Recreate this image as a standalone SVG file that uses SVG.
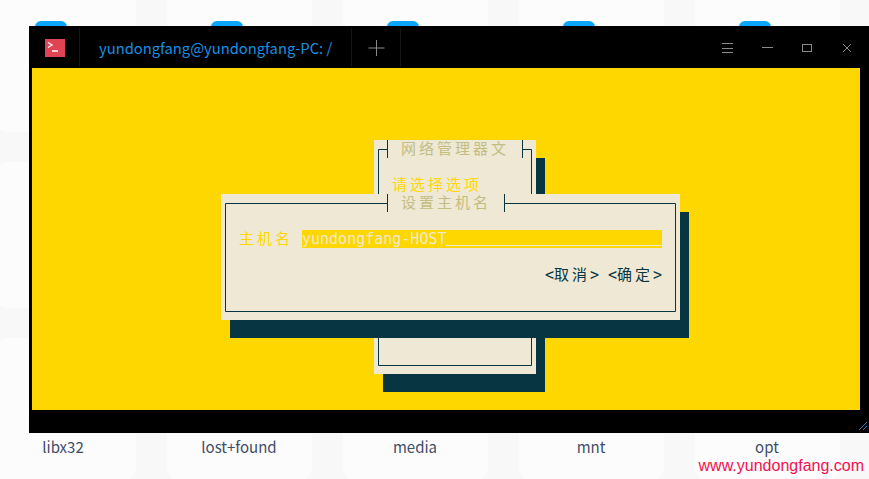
<svg xmlns="http://www.w3.org/2000/svg" width="869" height="479" viewBox="0 0 869 479">
<defs><style>
.ui{font-family:"Noto Sans CJK SC","Noto Sans",sans-serif}
.file{font-size:15px;fill:#414d68;text-anchor:middle}
.mono{font-family:"DejaVu Sans Mono","Liberation Mono","Noto Sans CJK SC",monospace;font-size:15px}
.cjk{font-family:"Noto Sans CJK SC",sans-serif;font-size:15px;letter-spacing:3px}
.face{fill:#eee8d5}.shadow{fill:#073642}
.rule{fill:none;stroke:#073642;stroke-width:1}
.title{fill:#c4bd80}.yellow{fill:#ffd700}.teal{fill:#073642}
.ctl{fill:none;stroke:#8a8a8a;stroke-width:1}
</style></defs>
<rect width="869" height="479" fill="#f8f8f8"/>
<g id="desktop" fill="#fcfcfc">
<rect x="-9" y="-20" width="145" height="152" rx="18"/><rect x="167" y="-20" width="145" height="152" rx="18"/><rect x="343" y="-20" width="145" height="152" rx="18"/><rect x="519" y="-20" width="145" height="152" rx="18"/><rect x="695" y="-20" width="145" height="152" rx="18"/>
<rect x="-9" y="162" width="145" height="146" rx="18"/><rect x="-9" y="338" width="145" height="146" rx="18"/>
<rect x="167" y="338" width="145" height="146" rx="18"/><rect x="343" y="338" width="145" height="146" rx="18"/><rect x="519" y="338" width="145" height="146" rx="18"/><rect x="695" y="338" width="145" height="146" rx="18"/>
</g>
<g id="icons" fill="#0aa5ff">
<rect x="35" y="21" width="32" height="20" rx="6"/><rect x="211" y="21" width="32" height="20" rx="6"/><rect x="387" y="21" width="32" height="20" rx="6"/><rect x="563" y="21" width="32" height="20" rx="6"/><rect x="739" y="21" width="32" height="20" rx="6"/>
</g>
<g id="window">
<rect x="29" y="26" width="840" height="407" fill="#000"/>
<rect x="32" y="68" width="828" height="342" fill="#ffd700"/>
</g>
<g id="titlebar">
<rect x="45" y="39" width="20" height="18" fill="#e04352"/>
<path d="M48 42.500l4 2.500-4 2.500M52 51h6" fill="none" stroke="#fff" stroke-width="1.300"/>
<path d="M79.500 28v39M351.500 28v39M400.500 28v39" stroke="#151515"/>
<text class="ui" x="99" y="54" font-size="14.750" fill="#1a8fe0">yundongfang@yundongfang-PC: /</text>
<path d="M368.500 48h16M376.500 40v16" stroke="#8a8a8a" fill="none"/>
<path class="ctl" d="M722 43.500h11M722 48.500h11M722 52.500h11"/>
<path class="ctl" d="M762 47.500h11"/>
<rect class="ctl" x="802.500" y="44.500" width="9" height="7"/>
<path class="ctl" d="M843 44l8 8M851 44l-8 8"/>
</g>
<g id="dialog-back">
<rect class="shadow" x="383" y="158" width="162" height="234"/>
<rect class="face" x="374" y="140" width="162" height="234"/>
<path class="rule" d="M387.500 149.500h-9v216h153v-216h-9M387.500 140v18M522.500 140v18"/>
<text class="cjk title" x="401" y="154">网络管理器文</text>
<text class="cjk yellow" x="392" y="190">请选择选项</text>
</g>
<g id="dialog-front">
<rect class="shadow" x="230" y="212" width="459" height="126"/>
<rect class="face" x="221" y="194" width="459" height="126"/>
<path class="rule" d="M387.500 203.500h-162v108h450v-108h-171M387.500 194v18M504.500 194v18"/>
<text class="cjk title" x="401" y="208">设置主机名</text>
<text class="cjk yellow" x="239" y="244">主机名</text>
<rect class="yellow" x="302" y="230" width="360" height="18"/>
<text class="mono" x="302" y="244" fill="#eee8d5" font-weight="300">yundongfang-HOST</text>
<rect x="446" y="245" width="216" height="1" fill="#eee8d5"/>
<text class="mono teal" x="545" y="280">&lt;</text><text class="cjk teal" x="554" y="280">取消</text><text class="mono teal" x="590" y="280">&gt;</text>
<text class="mono teal" x="608" y="280">&lt;</text><text class="cjk teal" x="617" y="280">确定</text><text class="mono teal" x="653" y="280">&gt;</text>
</g>
<g id="files">
<text class="ui file" x="63" y="453">libx32</text>
<text class="ui file" x="239" y="453">lost+found</text>
<text class="ui file" x="415" y="453">media</text>
<text class="ui file" x="591" y="453">mnt</text>
<text class="ui file" x="767" y="453">opt</text>
</g>
<path id="grip" d="M859 430l8-8M863 430l4-4" stroke="#1f7fc4" fill="none"/>
<text id="watermark" x="864" y="471" text-anchor="end" font-family="Liberation Sans,sans-serif" font-size="16" fill="#f5104f">www.yundongfang.com</text>
</svg>
